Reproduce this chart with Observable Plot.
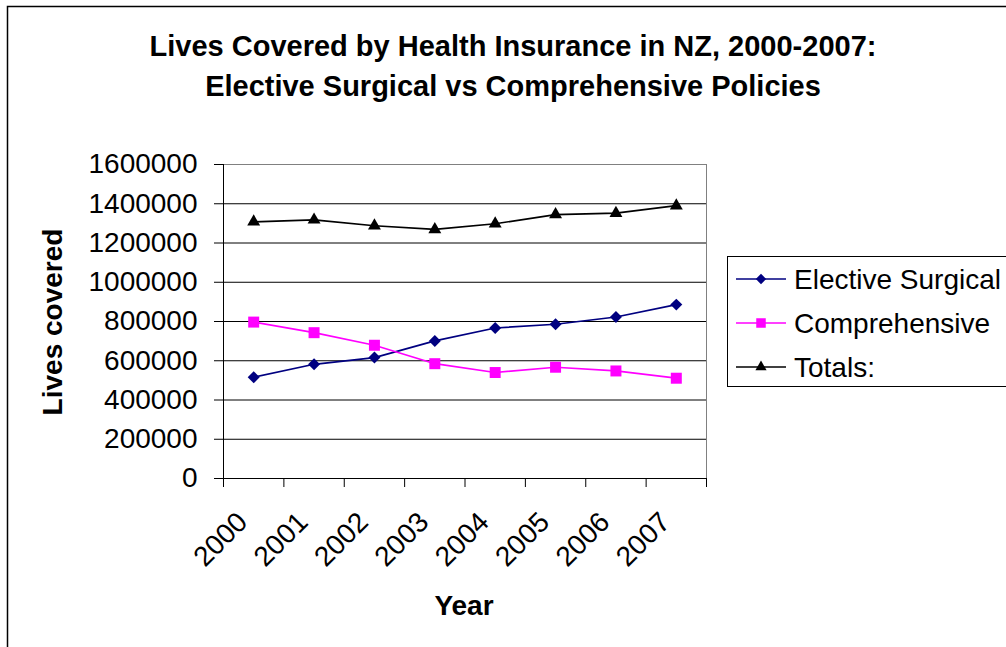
<!DOCTYPE html>
<html>
<head>
<meta charset="utf-8">
<script src="https://cdn.jsdelivr.net/npm/d3@7"></script>
<script src="https://cdn.jsdelivr.net/npm/@observablehq/plot@0.6"></script>
<style>
  html, body { margin: 0; padding: 0; background: #fff; overflow: hidden; }
  #chart { position: relative; width: 1006px; height: 647px; overflow: hidden;
           font-family: "Liberation Sans", Arial, Helvetica, sans-serif; background: #fff; }
  #chart > svg { position: absolute; left: 0; top: 0; }
</style>
</head>
<body>
<div id="chart"></div>
<script>
// ---- data ----
const years = [2000, 2001, 2002, 2003, 2004, 2005, 2006, 2007];
const elective = [516000, 582000, 616000, 701000, 767000, 786000, 823000, 886000];
const comprehensive = [797000, 743000, 679000, 585000, 540000, 567000, 548000, 511000];
const totals = [1308000, 1318000, 1288000, 1269000, 1298000, 1345000, 1352000, 1390000];
const seriesNames = ["Elective Surgical", "Comprehensive", "Totals:"];
const seriesColors = ["#000080", "#FF00FF", "#000000"];
const seriesSymbols = ["diamond2", "square", "triangle"];
const seriesR = [5.4, 6.2, 4.8];
const yTicks = [0, 200000, 400000, 600000, 800000, 1000000, 1200000, 1400000, 1600000];
const titleLines = ["Lives Covered by Health Insurance in NZ, 2000-2007:", "Elective Surgical vs Comprehensive Policies"];
const xTitle = "Year";
const yTitle = "Lives covered";

const seriesValues = [elective, comprehensive, totals];
const rows = seriesNames.flatMap((s, k) => years.map((yr, i) => ({series: s, year: yr, value: seriesValues[k][i]})));
const xBounds = [...years, years[years.length - 1] + 1];
const font = '"Liberation Sans", Arial, Helvetica, sans-serif';

const seriesMarks = seriesNames.flatMap((s, k) => {
  const d = rows.filter(r => r.series === s);
  return [
    Plot.line(d, {x: r => r.year + 0.5, y: "value", stroke: seriesColors[k], strokeWidth: 1.7}),
    Plot.dot(d, {x: r => r.year + 0.5, y: "value", symbol: seriesSymbols[k], fill: seriesColors[k], r: seriesR[k], stroke: "none"})
  ];
});

const plot = Plot.plot({
  width: 1006,
  height: 647,
  marginLeft: 223,
  marginRight: 300,
  marginTop: 164,
  marginBottom: 169,
  style: {fontFamily: font, fontSize: "28px", color: "#000", background: "transparent", overflow: "visible"},
  x: {type: "linear", domain: [xBounds[0], xBounds[xBounds.length - 1]]},
  y: {domain: [0, yTicks[yTicks.length - 1]]},
  marks: [
    Plot.ruleY(yTicks.slice(0, -1), {stroke: "#000", strokeWidth: 1}),
    Plot.frame({stroke: "#808080"}),
    Plot.ruleX([xBounds[0]], {stroke: "#000"}),
    Plot.ruleY([0], {stroke: "#000"}),
    Plot.axisY({ticks: yTicks, tickSize: 9, tickPadding: 17, tickFormat: d => String(d), label: null, fontSize: 28}),
    Plot.axisX({ticks: xBounds, tickSize: 9, tickFormat: () => "", label: null}),
    Plot.text(years, {x: d => d + 0.5, frameAnchor: "bottom", text: d => String(d), rotate: -45,
      textAnchor: "end", lineAnchor: "middle", dx: -11, dy: 39, fontSize: 28, fill: "#000"}),
    ...seriesMarks
  ]
});

const chart = document.getElementById("chart");
chart.appendChild(plot);

// ---- overlay: border, titles, legend (real text) ----
const ns = "http://www.w3.org/2000/svg";
const ov = d3.select(chart).append("svg")
  .attr("xmlns", ns).attr("width", 1006).attr("height", 647)
  .style("font-family", font);

ov.append("rect").attr("x", 7.5).attr("y", 6.5).attr("width", 1100).attr("height", 800)
  .attr("fill", "none").attr("stroke", "#000").attr("stroke-width", 1.5);

ov.selectAll("text.title").data(titleLines).join("text")
  .attr("class", "title")
  .attr("x", 513).attr("y", (d, i) => 56 + i * 40)
  .attr("text-anchor", "middle").attr("font-weight", "bold").attr("font-size", 29)
  .text(d => d);

ov.append("text").attr("x", 464).attr("y", 615).attr("text-anchor", "middle")
  .attr("font-weight", "bold").attr("font-size", 28).text(xTitle);

ov.append("text").attr("transform", "translate(62,322) rotate(-90)").attr("text-anchor", "middle")
  .attr("font-weight", "bold").attr("font-size", 28).text(yTitle);

// legend
const lg = ov.append("g").attr("transform", "translate(727,256)");
lg.append("rect").attr("x", 0.5).attr("y", 0.5).attr("width", 320).attr("height", 130)
  .attr("fill", "#fff").attr("stroke", "#000").attr("stroke-width", 1);
const symMap = {diamond2: d3.symbolDiamond2, square: d3.symbolSquare, triangle: d3.symbolTriangle};
seriesNames.forEach((s, k) => {
  const cy = 23 + k * 44;
  const g = lg.append("g").attr("transform", `translate(0,${cy})`);
  g.append("line").attr("x1", 9).attr("x2", 59).attr("y1", 0).attr("y2", 0)
    .attr("stroke", seriesColors[k]).attr("stroke-width", 1.6);
  g.append("path").attr("transform", "translate(34,0)")
    .attr("d", d3.symbol(symMap[seriesSymbols[k]], Math.PI * seriesR[k] * seriesR[k] * 0.75)())
    .attr("fill", seriesColors[k]);
  g.append("text").attr("x", 67).attr("y", 10).attr("font-size", 28).attr("fill", "#000").text(s);
});
</script>
</body>
</html>
